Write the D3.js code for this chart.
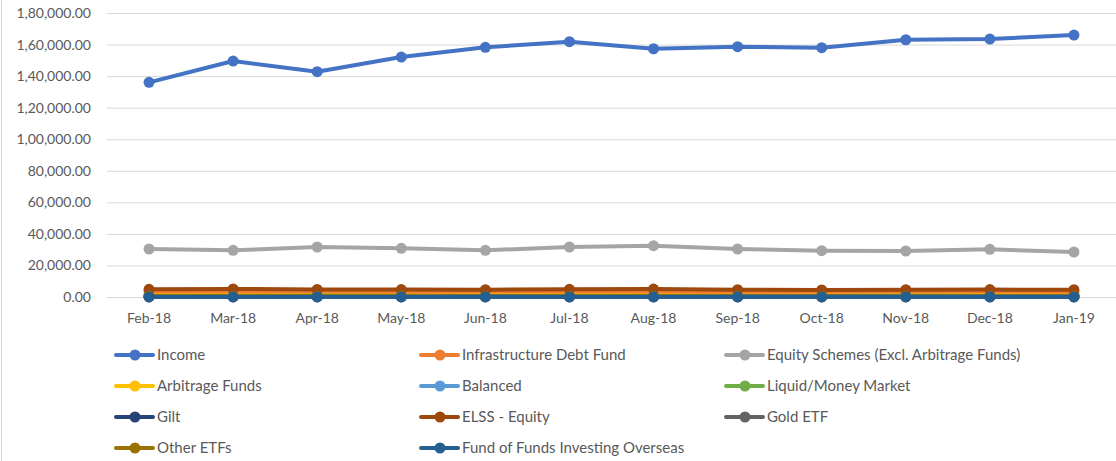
<!DOCTYPE html>
<html><head><meta charset="utf-8">
<script src="https://cdn.jsdelivr.net/npm/d3@7"></script>
<style>body{margin:0;background:#fff}svg{display:block;font-family:Lato,"Open Sans",sans-serif}</style>
</head><body><svg id="c" width="1116" height="461"></svg>
<script>
const categories = ["Feb-18","Mar-18","Apr-18","May-18","Jun-18","Jul-18","Aug-18","Sep-18","Oct-18","Nov-18","Dec-18","Jan-19"];
const yTicks = [0,20000,40000,60000,80000,100000,120000,140000,160000,180000];
const seriesNames = ["Income","Infrastructure Debt Fund","Equity Schemes (Excl. Arbitrage Funds)","Arbitrage Funds","Balanced","Liquid/Money Market","Gilt","ELSS - Equity","Gold ETF","Other ETFs","Fund of Funds Investing Overseas"];
const income    = [136060,149560,142780,152090,158240,161790,157350,158620,157990,163050,163500,166030];
const infra     = [3100,3200,3100,3000,3000,3100,3200,3000,3000,3000,3100,3000];
const equity    = [30420,29590,31690,30860,29590,31690,32510,30420,29340,29150,30230,28520];
const arbitrage = [900,950,900,850,900,950,900,850,850,900,900,850];
const balanced  = [600,620,610,600,590,600,610,590,580,580,590,580];
const liquid    = [700,650,720,690,700,710,680,690,700,720,710,700];
const gilt      = [300,290,280,270,270,260,260,250,250,260,260,250];
const elss      = [4900,5100,4800,4700,4600,4900,5000,4600,4500,4600,4700,4600];
const goldEtf   = [60,60,55,55,55,55,50,50,50,50,50,50];
const otherEtfs = [400,420,410,400,390,400,410,380,370,380,390,380];
const fof       = [50,50,50,50,50,50,50,50,50,50,50,50];
const seriesValues = [income,infra,equity,arbitrage,balanced,liquid,gilt,elss,goldEtf,otherEtfs,fof];
const colors = ["#4472C4","#ED7D31","#A5A5A5","#FFC000","#5B9BD5","#70AD47","#264478","#9E480E","#636363","#997300","#255E91"];

function indianFmt(v){
  let s = Math.round(v).toString();
  let last3 = s.slice(-3), rest = s.slice(0,-3);
  if(rest.length) rest = rest.replace(/\B(?=(\d{2})+(?!\d))/g, ",") + ",";
  return rest + last3 + ".00";
}

const svg = d3.select("#c");
const pLeft = 107, pRight = 1116, pTop = 13, pBottom = 297;
const x = d3.scaleBand().domain(categories).range([pLeft, pRight]);
const y = d3.scaleLinear().domain([0,180000]).range([pBottom, pTop]);

svg.append("line").attr("x1",1.5).attr("x2",1.5).attr("y1",0).attr("y2",461).attr("stroke","#D9D9D9");

const gy = svg.append("g").attr("transform",`translate(${pLeft},0)`)
  .call(d3.axisLeft(y).tickValues(yTicks).tickFormat(indianFmt).tickSize(-(pRight-pLeft)).tickPadding(16));
gy.select(".domain").remove();
gy.selectAll(".tick line").attr("stroke","#D9D9D9").attr("stroke-width",1);
gy.selectAll(".tick text").attr("fill","#595959").style("font-size","14px").style("font-family","Lato");

const gx = svg.append("g").attr("transform",`translate(0,${pBottom})`)
  .call(d3.axisBottom(x).tickSize(0).tickPadding(16));
gx.select(".domain").remove();
gx.selectAll(".tick text").attr("fill","#595959").style("font-size","14px").style("font-family","Lato");

const line = d3.line().x((d,i)=>x(categories[i])+x.bandwidth()/2).y(d=>y(d));
seriesValues.forEach((vals,k)=>{
  const g = svg.append("g");
  g.append("path").datum(vals).attr("d",line).attr("fill","none").attr("stroke",colors[k]).attr("stroke-width",4).attr("stroke-linejoin","round").attr("stroke-linecap","round");
  g.selectAll("circle").data(vals).join("circle")
    .attr("cx",(d,i)=>x(categories[i])+x.bandwidth()/2).attr("cy",d=>y(d)).attr("r",5.5).attr("fill",colors[k]);
});

const colX = [116, 421, 726];
const rowY = [355, 386, 417, 448];
const leg = svg.append("g");
seriesNames.forEach((name,k)=>{
  const cx = colX[k%3], cy = rowY[Math.floor(k/3)];
  const g = leg.append("g").attr("transform",`translate(${cx},${cy})`);
  g.append("line").attr("x1",0).attr("x2",37).attr("stroke",colors[k]).attr("stroke-width",4).attr("stroke-linecap","round");
  g.append("circle").attr("cx",19).attr("r",5.5).attr("fill",colors[k]);
  g.append("text").attr("x",41).attr("dy","0.35em").attr("fill","#595959").style("font-size","15px").text(name);
});
</script></body></html>
